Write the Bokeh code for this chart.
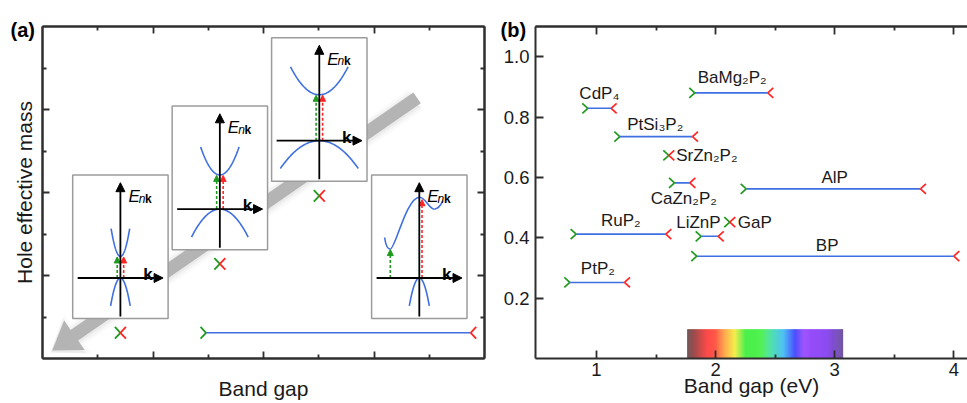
import numpy as np
from bokeh.plotting import figure
from bokeh.layouts import row
from bokeh.models import Range1d, LinearAxis, FixedTicker, Title, Arrow, NormalHead, PrintfTickFormatter
from bokeh.core.properties import value
from bokeh.embed import file_html
from bokeh.resources import INLINE

FONT = "Liberation Sans"
BLUE = "#3f6fe0"
GREEN = "#1f9a1f"
RED = "#ff2424"
AXC = "#2e2e2e"
TXT = "#1a1a1a"

# ---------------- Panel (a): schematic data ----------------
a_major = [2, 4, 6]
a_minor = [1, 3, 5, 7]
a_cross_x = [1.41, 3.21, 5.01]
a_cross_y = [0.62, 2.28, 3.92]
a_bar_start = [2.96]
a_bar_end = [7.75]
a_bar_y = [0.62]
inset_x = [1.41, 3.21, 5.01, 6.82]
inset_y = [1.94, 3.60, 5.25, 1.94]
inset_gap_px = [21.6, 34.3, 46.0]
inset_cb_halfwidth_px = [9.3, 19.2, 28.8]
inset_vb_halfwidth_px = [9.8, 28.3, 39.0, 10.0]
trend_start = (6.78, 6.28)
trend_tip = (0.176, 0.19)

# ---------------- Panel (b): data ----------------
materials = ["BaMg₂P₂", "CdP₄", "PtSi₃P₂", "SrZn₂P₂", "CaZn₂P₂", "AlP",
             "RuP₂", "LiZnP", "GaP", "BP", "PtP₂"]
gap_indirect = [1.825, 0.927, 1.196, 1.607, 1.655, 2.257, 0.829, 1.879, 2.119, 1.842, 0.776]
gap_direct = [2.438, 1.123, 1.806, 1.607, 1.784, 3.720, 1.582, 2.022, 2.119, 4.000, 1.235]
hole_mass = [0.880, 0.829, 0.735, 0.673, 0.582, 0.562, 0.412, 0.405, 0.452, 0.339, 0.252]
label_x = [2.139, 1.024, 1.493, 1.669, 1.733, 3.000, 1.204, 1.856, 2.186, 2.937, 1.011]
label_y = [0.932, 0.877, 0.776, 0.672, 0.531, 0.600, 0.456, 0.451, 0.451, 0.376, 0.299]
label_left = [False, False, False, True, False, False, False, False, True, False, False]
b_xticks = [1, 2, 3, 4]
b_xminor = [1.5, 2.5, 3.5]
b_yticks = [0.2, 0.4, 0.6, 0.8, 1.0]
spec_e = [1.761, 1.85, 1.93, 2.0, 2.08, 2.16, 2.25, 2.38, 2.47, 2.57, 2.67, 2.74, 2.94, 3.071]
spec_c = ["#6b4f50", "#b84a4a", "#ff4a4a", "#ff5a48", "#ffaa45", "#f5ee50", "#4cf04c",
          "#4cf04c", "#50e0b0", "#4fc0f5", "#4a4cff", "#9a4cff", "#8c4cf0", "#6a4e9a"]
spec_top = 0.097


# ---------------- helpers ----------------
def base_axis(ax):
    ax.axis_line_color = AXC
    ax.axis_line_width = 2
    ax.major_tick_line_color = AXC
    ax.major_tick_line_width = 1.8
    ax.minor_tick_line_color = AXC
    ax.minor_tick_line_width = 1.8
    ax.major_tick_out = 0
    ax.minor_tick_out = 0


def tick_only_axis(ticks, length):
    ax = LinearAxis(ticker=FixedTicker(ticks=[], minor_ticks=ticks))
    base_axis(ax)
    ax.minor_tick_in = length
    ax.major_tick_in = 0
    ax.major_label_standoff = 0
    return ax


def axis_title(ax, text, standoff):
    ax.axis_label = text
    ax.axis_label_text_font = FONT
    ax.axis_label_text_font_size = "21px"
    ax.axis_label_text_font_style = "normal"
    ax.axis_label_text_color = TXT
    ax.axis_label_text_line_height = 0.9
    ax.axis_label_standoff = standoff


def panel_tag(text, offset):
    return Title(text=text, align="left", offset=offset, vertical_align="bottom", standoff=-28,
                 text_font=FONT, text_font_size="20px", text_font_style="bold", text_color="black")


# ================= Panel (a) =================
A_W, A_H = 490, 403
A_FW, A_FH = 442, 333
SXA = A_FW / 8.0
SYA = A_FH / 8.0

pa = figure(width=A_W, height=A_H, x_range=Range1d(0, 8), y_range=Range1d(0, 8),
            output_backend="svg", toolbar_location=None,
            x_axis_type=None, y_axis_type=None,
            min_border_left=42, min_border_right=6, min_border_top=25, min_border_bottom=45)
pa.outline_line_color = None
pa.background_fill_color = "white"
pa.border_fill_color = "white"
for loc in ["below", "above", "left", "right"]:
    pa.add_layout(tick_only_axis(a_major, 7), loc)
    ax2 = tick_only_axis(a_minor, 4)
    if loc == "left":
        axis_title(ax2, "Hole effective mass", 7)
    if loc == "below":
        axis_title(ax2, "Band gap", 18)
    pa.add_layout(ax2, loc)
pa.add_layout(panel_tag("(a)", -32), "above")


def arrow_poly(p0, p1, w, lh, wh, shift=(0.0, 0.0)):
    P0 = np.array([p0[0] * SXA, p0[1] * SYA]) + np.array(shift)
    P1 = np.array([p1[0] * SXA, p1[1] * SYA]) + np.array(shift)
    u = (P1 - P0) / np.linalg.norm(P1 - P0)
    nrm = np.array([-u[1], u[0]])
    B = P1 - u * lh
    pts = [P0 + nrm * w / 2, B + nrm * w / 2, B + nrm * wh / 2, P1,
           B - nrm * wh / 2, B - nrm * w / 2, P0 - nrm * w / 2]
    return [p[0] / SXA for p in pts], [p[1] / SYA for p in pts]


# soft shadow + grey trend arrow
for ww, hh, ll, al in [(25, 48, 33, 0.05), (20, 43, 30, 0.07), (16, 39, 28, 0.09)]:
    xs, ys = arrow_poly(trend_start, trend_tip, ww, ll, hh, shift=(-1.5, -2.0))
    pa.patch(xs, ys, fill_color="#9a9a9a", fill_alpha=al, line_color=None)
xs, ys = arrow_poly(trend_start, trend_tip, 13, 27, 36)
pa.patch(xs, ys, fill_color="#b4b4b4", line_color=None)

# insets
for i in range(4):
    ox, oy = inset_x[i], inset_y[i]

    def X(d, ox=ox):
        return ox + np.asarray(d, dtype=float) / SXA

    def Y(d, oy=oy):
        return oy + np.asarray(d, dtype=float) / SYA

    pa.quad(left=[X(-47.7)], right=[X(47.7)], bottom=[Y(-40.7)], top=[Y(103.3)],
            fill_color="white", line_color="#9c9c9c", line_width=1.5)
    t = np.linspace(-1, 1, 80)
    wv = inset_vb_halfwidth_px[i]
    pa.line(X(t * wv), Y(-28 * t ** 2), line_color=BLUE, line_width=1.6)
    if i < 3:
        g = inset_gap_px[i]
        wc = inset_cb_halfwidth_px[i]
        pa.line(X(t * wc), Y(g + 28 * t ** 2), line_color=BLUE, line_width=1.6)
        gx, gtop = -3.2, g
        rx, rtop = 3.3, g
    else:
        segs = [((-34.7, 40.6), (-33.8, 34.0), (-32.0, 29.0), (-29.0, 29.0)),
                ((-29.0, 29.0), (-24.0, 29.0), (-13.0, 81.0), (0.3, 81.0)),
                ((0.3, 81.0), (6.0, 81.0), (10.0, 69.0), (15.0, 69.0)),
                ((15.0, 69.0), (19.0, 69.0), (21.5, 73.0), (23.7, 77.5))]
        for s0, c0, c1, s1 in segs:
            pa.bezier(x0=[X(s0[0])], y0=[Y(s0[1])], x1=[X(s1[0])], y1=[Y(s1[1])],
                      cx0=[X(c0[0])], cy0=[Y(c0[1])], cx1=[X(c1[0])], cy1=[Y(c1[1])],
                      line_color=BLUE, line_width=1.6)
        gx, gtop = -29.0, 29.0
        rx, rtop = 2.7, 79.0
    for xx, top, col in [(gx, gtop, GREEN), (rx, rtop, RED)]:
        pa.add_layout(Arrow(end=NormalHead(size=6, fill_color=col, line_color=col, line_width=1),
                            x_start=float(X(xx)), y_start=float(Y(0)),
                            x_end=float(X(xx)), y_end=float(Y(top - 0.5)),
                            line_color=col, line_width=1.6, line_dash="3 2"))
    pa.add_layout(Arrow(end=NormalHead(size=9, fill_color="black", line_color="black", line_width=1),
                        x_start=float(X(0)), y_start=float(Y(-38.7)),
                        x_end=float(X(0)), y_end=float(Y(95.6)),
                        line_color="black", line_width=1.8))
    pa.add_layout(Arrow(end=NormalHead(size=9, fill_color="black", line_color="black", line_width=1),
                        x_start=float(X(-42.7)), y_start=float(Y(0)),
                        x_end=float(X(42.7)), y_end=float(Y(0)),
                        line_color="black", line_width=1.8))
    pa.text(x=[X(8.0)], y=[Y(81.5)], text=["E"], text_font=value(FONT), text_font_style="italic",
            text_font_size="17px", text_color="black", text_baseline="alphabetic", text_align="left")
    pa.text(x=[X(18.3)], y=[Y(79.5)], text=["n"], text_font=value(FONT), text_font_style="italic",
            text_font_size="12px", text_color="black", text_baseline="alphabetic", text_align="left")
    pa.text(x=[X(24.6)], y=[Y(79.5)], text=["k"], text_font=value(FONT), text_font_style="bold",
            text_font_size="12px", text_color="black", text_baseline="alphabetic", text_align="left")
    pa.text(x=[X(27.5)], y=[Y(3.5)], text=["k"], text_font=value(FONT), text_font_style="bold",
            text_font_size="17px", text_color="black", text_baseline="alphabetic", text_align="center")

# crosses and range bar of panel (a)
mdx, mdy = 5.5 / SXA, 5.8 / SYA
pa.segment(x0=a_bar_start, y0=a_bar_y, x1=a_bar_end, y1=a_bar_y, line_color=BLUE, line_width=1.6)
ax_l = list(a_cross_x) + a_bar_start
ay_l = list(a_cross_y) + a_bar_y
ax_r = list(a_cross_x) + a_bar_end
ay_r = list(a_cross_y) + a_bar_y
for sgn in (1, -1):
    pa.segment(x0=[x - mdx for x in ax_l], y0=[y + sgn * mdy for y in ay_l], x1=ax_l, y1=ay_l,
               line_color=GREEN, line_width=1.8)
    pa.segment(x0=[x + mdx for x in ax_r], y0=[y + sgn * mdy for y in ay_r], x1=ax_r, y1=ay_r,
               line_color=RED, line_width=1.8)

# ================= Panel (b) =================
B_W, B_H = 477, 403
B_FW, B_FH = 432, 332
XB0 = 0.4878
SXB = 119.1
XB1 = XB0 + B_FW / SXB
SYB = B_FH / 1.1

pb = figure(width=B_W, height=B_H, x_range=Range1d(XB0, XB1), y_range=Range1d(0, 1.1),
            output_backend="svg", toolbar_location=None,
            x_axis_type=None, y_axis_type=None,
            min_border_left=45, min_border_right=0, min_border_top=26, min_border_bottom=45)
pb.outline_line_color = None
pb.background_fill_color = "white"
pb.border_fill_color = "white"

# visible spectrum bar
rgb = np.array([[int(c[j:j + 2], 16) for j in (1, 3, 5)] for c in spec_c])
n = 160
edges = np.linspace(spec_e[0], spec_e[-1], n + 1)
mids = 0.5 * (edges[:-1] + edges[1:])
cols = ["#%02x%02x%02x" % tuple(int(round(np.interp(m, spec_e, rgb[:, k]))) for k in range(3)) for m in mids]
stp = edges[1] - edges[0]
pb.quad(left=edges[:-1], right=np.minimum(edges[1:] + 0.6 * stp, edges[-1]), bottom=0, top=spec_top,
        fill_color=cols, line_color=None)

bx = LinearAxis(ticker=FixedTicker(ticks=b_xticks, minor_ticks=b_xminor))
base_axis(bx)
bx.major_tick_in = 8
bx.minor_tick_in = 4
bx.major_label_text_font = FONT
bx.major_label_text_font_size = "18.5px"
bx.major_label_text_color = TXT
bx.major_label_standoff = 4
axis_title(bx, "Band gap (eV)", -5)
pb.add_layout(bx, "below")

pb.add_layout(tick_only_axis(b_xticks, 8), "above")
pb.add_layout(tick_only_axis(b_xminor, 4), "above")
pb.add_layout(panel_tag("(b)", -35), "above")

ly = LinearAxis(ticker=FixedTicker(ticks=b_yticks, minor_ticks=[]))
base_axis(ly)
ly.major_tick_in = 8
ly.minor_tick_in = 0
ly.major_label_text_font = FONT
ly.major_label_text_font_size = "18.5px"
ly.major_label_text_color = TXT
ly.major_label_standoff = 6
ly.formatter = PrintfTickFormatter(format="%.1f")
pb.add_layout(ly, "left")

mdxb, mdyb = 5.5 / SXB, 5.0 / SYB
pb.segment(x0=gap_indirect, y0=hole_mass, x1=gap_direct, y1=hole_mass, line_color=BLUE, line_width=1.6)
for sgn in (1, -1):
    pb.segment(x0=[x - mdxb for x in gap_indirect], y0=[y + sgn * mdyb for y in hole_mass],
               x1=gap_indirect, y1=hole_mass, line_color=GREEN, line_width=1.7)
    pb.segment(x0=[x + mdxb for x in gap_direct], y0=[y + sgn * mdyb for y in hole_mass],
               x1=gap_direct, y1=hole_mass, line_color=RED, line_width=1.7)

for left_flag, align in [(False, "center"), (True, "left")]:
    idx = [i for i in range(len(materials)) if label_left[i] == left_flag]
    pb.text(x=[label_x[i] for i in idx], y=[label_y[i] for i in idx], text=[materials[i] for i in idx],
            text_font=value(FONT), text_font_size="17px", text_color=TXT,
            text_align=align, text_baseline="middle")

layout = row(pa, pb)
open("out.html", "w").write(file_html(layout, INLINE))
